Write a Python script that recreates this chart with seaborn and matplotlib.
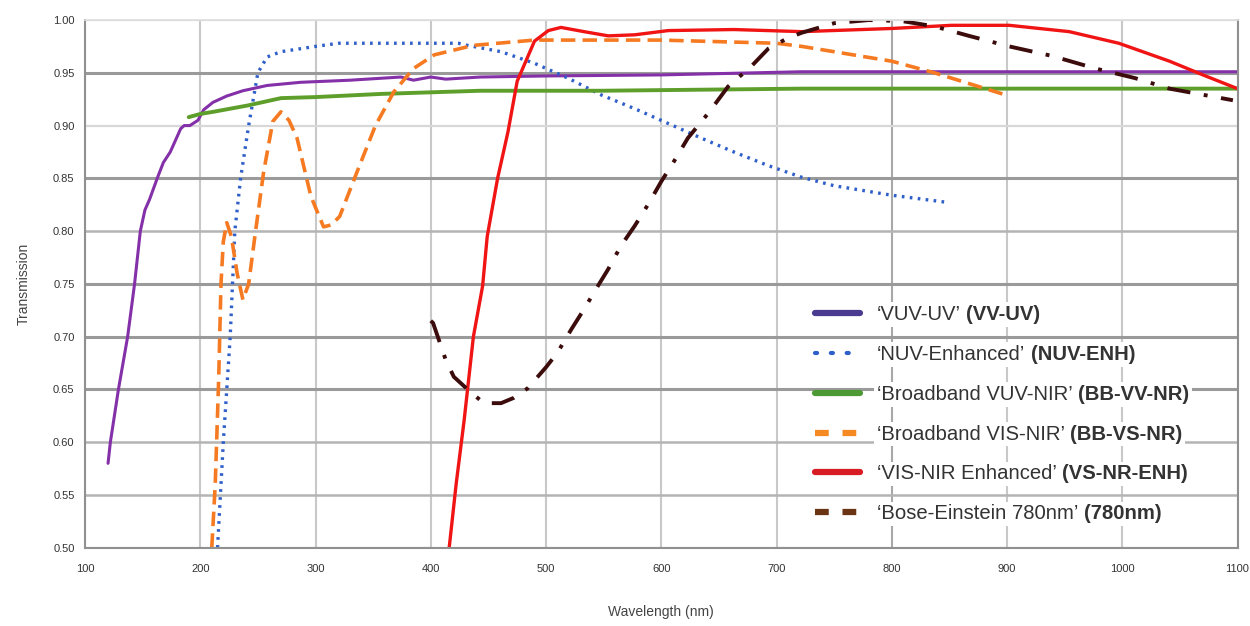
import matplotlib
matplotlib.use("Agg")
import matplotlib.pyplot as plt
import seaborn as sns
from matplotlib.lines import Line2D

# === DATA ===
vuv_x = [120, 122, 129, 137, 143, 148, 152, 156, 163, 168, 174, 183, 186, 191, 198, 203, 211, 223,
         237, 258, 287, 330, 374, 385, 400, 413, 443, 500, 600, 722, 850, 1000, 1100]
vuv_y = [0.58, 0.60, 0.65, 0.70, 0.75, 0.80, 0.82, 0.83, 0.851, 0.865, 0.875, 0.897, 0.90, 0.90, 0.905,
         0.915, 0.922, 0.928, 0.933, 0.938, 0.941, 0.943, 0.946, 0.943, 0.946, 0.944, 0.946, 0.947,
         0.948, 0.951, 0.951, 0.951, 0.951]

nuv_x = [215, 220, 226, 228, 230, 235, 242, 250, 258, 270, 300, 320, 400, 424, 432, 461, 490, 519,
         548, 577, 606, 635, 663, 693, 722, 750, 800, 850]
nuv_y = [0.50, 0.60, 0.70, 0.75, 0.80, 0.85, 0.90, 0.95, 0.965, 0.970, 0.975, 0.978, 0.978, 0.978,
         0.976, 0.970, 0.959, 0.945, 0.929, 0.916, 0.902, 0.888, 0.875, 0.862, 0.851, 0.843, 0.834, 0.827]

bbvv_x = [190, 200, 211, 241, 270, 300, 357, 443, 548, 722, 900, 1100]
bbvv_y = [0.908, 0.911, 0.913, 0.919, 0.926, 0.927, 0.930, 0.933, 0.933, 0.935, 0.935, 0.935]

bbvs_x = [210, 213, 216, 218, 220, 223, 227, 232, 237, 242, 248, 255, 263, 270, 277, 284, 296, 307,
          314, 321, 336, 352, 368, 385, 403, 437, 490, 600, 700, 722, 800, 837, 896]
bbvs_y = [0.50, 0.56, 0.66, 0.75, 0.79, 0.808, 0.795, 0.76, 0.735, 0.75, 0.80, 0.856, 0.904, 0.913,
          0.905, 0.888, 0.833, 0.804, 0.806, 0.814, 0.856, 0.90, 0.932, 0.954, 0.967, 0.976, 0.981,
          0.981, 0.978, 0.975, 0.961, 0.950, 0.930]

vsnr_x = [416, 422, 429, 437, 445, 449, 458, 467, 475, 490, 502, 513, 533, 554, 577, 606, 663, 722,
          800, 852, 902, 954, 997, 1041, 1070, 1100]
vsnr_y = [0.50, 0.56, 0.621, 0.70, 0.748, 0.795, 0.85, 0.894, 0.942, 0.980, 0.990, 0.993, 0.989,
          0.985, 0.986, 0.990, 0.991, 0.989, 0.992, 0.995, 0.995, 0.989, 0.978, 0.961, 0.948, 0.935]

be_x = [400, 402, 413, 420, 432, 446, 461, 472, 484, 500, 510, 522, 533, 545, 554, 565, 577, 589,
        600, 611, 623, 641, 658, 678, 693, 710, 722, 750, 780, 809, 837, 867, 902, 939, 977, 1011,
        1041, 1096]
be_y = [0.715, 0.713, 0.678, 0.662, 0.650, 0.637, 0.637, 0.642, 0.651, 0.671, 0.685, 0.707, 0.726,
        0.748, 0.764, 0.786, 0.805, 0.826, 0.847, 0.866, 0.888, 0.912, 0.937, 0.956, 0.973, 0.983,
        0.988, 0.997, 1.0, 0.999, 0.994, 0.985, 0.975, 0.966, 0.954, 0.945, 0.935, 0.924]

labels = ["\u2018VUV-UV\u2019", "\u2018NUV-Enhanced\u2019", "\u2018Broadband VUV-NIR\u2019",
          "\u2018Broadband VIS-NIR\u2019", "\u2018VIS-NIR Enhanced\u2019", "\u2018Bose-Einstein 780nm\u2019"]
codes = ["(VV-UV)", "(NUV-ENH)", "(BB-VV-NR)", "(BB-VS-NR)", "(VS-NR-ENH)", "(780nm)"]

x_ticks = list(range(100, 1101, 100))
y_ticks = [0.50, 0.55, 0.60, 0.65, 0.70, 0.75, 0.80, 0.85, 0.90, 0.95, 1.00]

# === STYLE ===
sns.set_theme(style="white")
plt.rcParams['font.family'] = ['Liberation Sans', 'DejaVu Sans']

fig = plt.figure(figsize=(12.5, 6.26), dpi=100)
ax = fig.add_axes([0.068, 0.125, 0.922, 0.843])

series = [
    (vuv_x, vuv_y, "#8430a8", 2.2, "-"),
    (nuv_x, nuv_y, "#2f5fc8", 2.4, (0, (0.8, 1.6))),
    (bbvv_x, bbvv_y, "#5e9f2c", 2.8, "-"),
    (bbvs_x, bbvs_y, "#f57a22", 2.6, (0, (4, 2))),
    (vsnr_x, vsnr_y, "#f01414", 2.4, "-"),
    (be_x, be_y, "#3c0c0c", 2.8, (0, (6, 3.5, 1, 3.5))),
]
for xs, ys, col, lw, ls in series:
    sns.lineplot(x=xs, y=ys, ax=ax, sort=False, color=col, linewidth=lw, linestyle=ls)

ax.set_xlim(100, 1100)
ax.set_ylim(0.50, 1.00)
ax.set_xticks(x_ticks)
ax.set_yticks(y_ticks)
ax.set_yticklabels([f"{v:.2f}" for v in y_ticks])
ax.tick_params(axis="both", labelsize=8, colors="#555555", length=4, width=1, direction="out",
               labelcolor="#333333")
ax.tick_params(axis="x", pad=8)

# grid: vertical light, horizontal mixed like the scan
ax.grid(True, axis="x", color="#c8c8c8", linewidth=1.5, zorder=0)
ax.grid(True, axis="y", color="#9a9a9a", linewidth=2.2, zorder=0)
light = {0.90, 1.00}
medium = {0.55, 0.60, 0.80}
for val, gl in zip(y_ticks, ax.get_ygridlines()):
    v = round(val, 2)
    if v in light:
        gl.set_color("#d8d8d8")
        gl.set_linewidth(1.6)
    elif v in medium:
        gl.set_color("#b4b4b4")
        gl.set_linewidth(1.8)
for val, gl in zip(x_ticks, ax.get_xgridlines()):
    if val in (800, 1100):
        gl.set_color("#a8a8a8")
ax.set_axisbelow(True)

ax.spines["top"].set_color("#dddddd")
for side in ["left", "bottom", "right"]:
    ax.spines[side].set_color("#909090")
    ax.spines[side].set_linewidth(1.5)

ax.set_xlabel("Wavelength (nm)", fontsize=10, color="#444444", labelpad=22)
ax.set_ylabel("Transmission", fontsize=10, color="#444444", labelpad=16)

# === LEGEND ===
handles = [
    Line2D([], [], color="#4a3a90", linewidth=4.5),
    Line2D([], [], color="#2f5fc8", linewidth=3, linestyle=(0, (0.5, 3.3)), dash_capstyle="round"),
    Line2D([], [], color="#4d9a35", linewidth=4.5),
    Line2D([], [], color="#f58a22", linewidth=4.5, linestyle=(0, (2.2, 2.2))),
    Line2D([], [], color="#d81c24", linewidth=4.5),
    Line2D([], [], color="#6b3412", linewidth=4.5, linestyle=(0, (2.2, 2.2))),
]
leg = ax.legend(handles, labels, loc="upper left", bbox_to_anchor=(0.621, 0.487), fontsize=14.6,
                frameon=False, handlelength=2.2, handletextpad=0.85, labelspacing=1.03,
                borderpad=0.2)
for txt in leg.get_texts():
    txt.set_color("#333333")
    txt.set_bbox(dict(facecolor="white", edgecolor="none", pad=2))

fig.canvas.draw()
for txt, code in zip(leg.get_texts(), codes):
    ax.annotate(code, xy=(1, 0), xycoords=txt, xytext=(4, 0), textcoords="offset points",
                fontsize=14.6, fontweight="bold", color="#333333", va="bottom", ha="left",
                annotation_clip=False, zorder=6,
                bbox=dict(facecolor="white", edgecolor="none", pad=2))

fig.savefig("out.png", dpi=100)
